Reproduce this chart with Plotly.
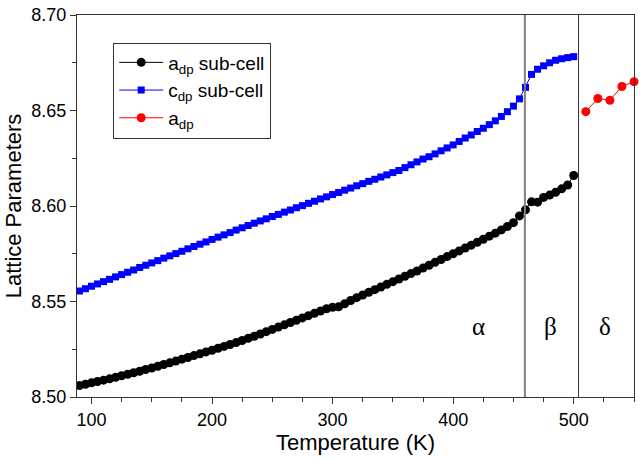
import plotly.graph_objects as go

# ---------------- data ----------------
temps = list(range(90, 505, 5))  # K, 90..500 step 5

a_sub = [
    8.5060, 8.5067, 8.5074, 8.5081, 8.5088, 8.5095, 8.5103, 8.5111, 8.5119, 8.5127,  # 90-135
    8.5135, 8.5144, 8.5152, 8.5161, 8.5170, 8.5179, 8.5188, 8.5198, 8.5207, 8.5217,  # 140-185
    8.5226, 8.5236, 8.5245, 8.5255, 8.5265, 8.5275, 8.5285, 8.5296, 8.5307, 8.5318,  # 190-235
    8.5330, 8.5342, 8.5354, 8.5366, 8.5378, 8.5390, 8.5402, 8.5414, 8.5426, 8.5438,  # 240-285
    8.5450, 8.5462, 8.5470, 8.5472, 8.5488, 8.5505, 8.5520, 8.5534, 8.5548, 8.5562,  # 290-335
    8.5576, 8.5590, 8.5604, 8.5618, 8.5632, 8.5646, 8.5660, 8.5675, 8.5690, 8.5705,  # 340-385
    8.5720, 8.5735, 8.5750, 8.5765, 8.5780, 8.5795, 8.5810, 8.5826, 8.5842, 8.5858,  # 390-435
    8.5875, 8.5893, 8.5913, 8.5948, 8.5980, 8.6022, 8.6020, 8.6045, 8.6057, 8.6072,  # 440-485
    8.6090, 8.6110, 8.6160,                                                          # 490-500
]

c_sub = [
    8.5555, 8.5567, 8.5580, 8.5592, 8.5604, 8.5616, 8.5629, 8.5641, 8.5653, 8.5665,  # 90-135
    8.5678, 8.5690, 8.5702, 8.5714, 8.5727, 8.5739, 8.5751, 8.5763, 8.5776, 8.5788,  # 140-185
    8.5800, 8.5812, 8.5825, 8.5837, 8.5849, 8.5861, 8.5874, 8.5886, 8.5898, 8.5910,  # 190-235
    8.5922, 8.5933, 8.5945, 8.5956, 8.5968, 8.5979, 8.5991, 8.6002, 8.6014, 8.6025,  # 240-285
    8.6037, 8.6048, 8.6060, 8.6071, 8.6083, 8.6094, 8.6106, 8.6117, 8.6129, 8.6140,  # 290-335
    8.6152, 8.6163, 8.6175, 8.6186, 8.6201, 8.6216, 8.6231, 8.6246, 8.6258, 8.6273,  # 340-385
    8.6289, 8.6304, 8.6320, 8.6338, 8.6356, 8.6372, 8.6390, 8.6407, 8.6426, 8.6446,  # 390-435
    8.6469, 8.6494, 8.6523, 8.6561, 8.6621, 8.6689, 8.6716, 8.6734, 8.6750, 8.6763,  # 440-485
    8.6771, 8.6777, 8.6782,                                                          # 490-500
]

temps_delta = [510, 520, 530, 540, 550]
a_delta = [8.6494, 8.6563, 8.6554, 8.6626, 8.6651]

phase_boundaries = [459.5, 504]
phase_names = ["α", "β", "δ"]
phase_name_T = [421, 481, 526]
phase_name_y = 8.537

x_ticks = [100, 200, 300, 400, 500]
y_ticks = [8.50, 8.55, 8.60, 8.65, 8.70]

assert len(a_sub) == len(temps) == len(c_sub)

# ---------------- figure ----------------
SANS = "Arial, Liberation Sans, sans-serif"
SERIF = "Times New Roman, Liberation Serif, serif"

fig = go.Figure()
fig.add_trace(go.Scatter(
    x=temps, y=a_sub, mode="lines+markers", name="a<sub>dp</sub> sub-cell",
    line=dict(color="black", width=1),
    marker=dict(symbol="circle", size=9, color="black"),
))
fig.add_trace(go.Scatter(
    x=temps, y=c_sub, mode="lines+markers", name="c<sub>dp</sub> sub-cell",
    line=dict(color="#0000ff", width=1),
    marker=dict(symbol="square", size=7, color="#0000ff"),
))
fig.add_trace(go.Scatter(
    x=temps_delta, y=a_delta, mode="lines+markers", name="a<sub>dp</sub>",
    line=dict(color="#ff0000", width=1),
    marker=dict(symbol="circle", size=9, color="#ff0000"),
    cliponaxis=False,
))

for i, xb in enumerate(phase_boundaries):
    fig.add_shape(type="line", xref="x", yref="paper", x0=xb, x1=xb, y0=0, y1=1,
                  line=dict(color="#808080" if i == 0 else "#333333",
                            width=2 if i == 0 else 1))

for name, tx in zip(phase_names, phase_name_T):
    fig.add_annotation(x=tx, y=phase_name_y, xref="x", yref="y", text=name,
                       showarrow=False, font=dict(family=SERIF, size=25, color="black"))

axis_common = dict(
    showgrid=False, zeroline=False, showline=True, linecolor="#333333", linewidth=1,
    mirror=True, ticks="outside", ticklen=6, tickcolor="#333333", tickwidth=1,
    tickfont=dict(family=SANS, size=18, color="black"),
    ticklabeloverflow="allow",
)

fig.update_xaxes(
    range=[88, 550], tickvals=x_ticks,
    title=dict(text="Temperature (K)", font=dict(family=SANS, size=22, color="black"), standoff=2),
    minor=dict(dtick=25, tick0=100, ticks="outside", ticklen=4, tickcolor="#333333"),
    **axis_common,
)
fig.update_yaxes(
    range=[8.50, 8.70001], tickvals=y_ticks, tickformat=".2f",
    title=dict(text="Lattice Parameters", font=dict(family=SANS, size=22, color="black"), standoff=3),
    minor=dict(dtick=0.025, tick0=8.5, ticks="outside", ticklen=4, tickcolor="#333333"),
    **axis_common,
)

fig.update_layout(
    width=640, height=460,
    margin=dict(l=77, r=5, t=7, b=63),
    paper_bgcolor="white", plot_bgcolor="white",
    font=dict(family=SANS, color="black"),
    legend=dict(
        x=0.065, y=0.928, xanchor="left", yanchor="top",
        bgcolor="white", bordercolor="#333333", borderwidth=1,
        font=dict(family=SANS, size=19, color="black"),
        itemwidth=44, tracegroupgap=0,
    ),
)

fig.write_html("out.html", config={"displayModeBar": False},
               post_script="document.body.style.margin='0';")
